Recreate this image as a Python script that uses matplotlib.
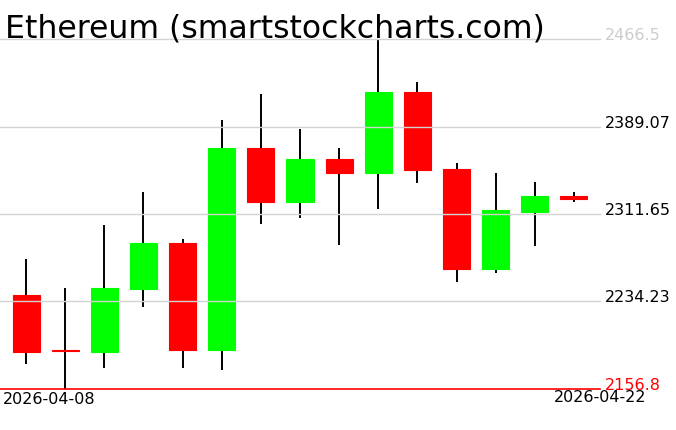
import matplotlib
matplotlib.use("Agg")
import matplotlib.pyplot as plt
import matplotlib.transforms as mtransforms
import numpy as np

# daily candles, 2026-04-08 .. 2026-04-22
dates = ["2026-04-08", "2026-04-09", "2026-04-10", "2026-04-11", "2026-04-12",
         "2026-04-13", "2026-04-14", "2026-04-15", "2026-04-16", "2026-04-17",
         "2026-04-18", "2026-04-19", "2026-04-20", "2026-04-21", "2026-04-22"]
opens = [2240.0, 2191.2, 2189.8, 2245.3, 2286.0, 2191.6, 2370.1, 2322.5,
         2360.3, 2348.2, 2419.6, 2351.5, 2263.2, 2313.7, 2327.6]
highs = [2271.8, 2246.2, 2301.9, 2331.1, 2289.5, 2394.8, 2417.8, 2386.9,
         2370.1, 2466.5, 2428.5, 2356.8, 2347.9, 2340.0, 2331.1]
lows = [2179.2, 2156.8, 2175.6, 2229.6, 2175.6, 2173.9, 2303.1, 2308.4,
        2284.5, 2316.3, 2339.3, 2251.7, 2259.7, 2283.6, 2322.5]
closes = [2189.8, 2190.0, 2246.2, 2286.0, 2191.6, 2370.1, 2322.5, 2360.3,
          2348.2, 2419.6, 2350.9, 2263.2, 2315.2, 2327.6, 2325.2]

levels = [2156.8, 2234.23, 2311.65, 2389.07, 2466.5]
level_labels = ["2156.8", "2234.23", "2311.65", "2389.07", "2466.5"]
level_colors = ["#ff0000", "black", "black", "black", "#cccccc"]

W, H = 676, 431
fig = plt.figure(figsize=(W / 100, H / 100), dpi=100)
ax = fig.add_axes([0, 1 - 390 / H, 600 / W, 350 / H])

x = np.arange(len(dates))
o = np.array(opens)
c = np.array(closes)
up = c > o
cols = np.where(up, "#00ff00", "#ff0000")

ax.vlines(x, lows, highs, color="black", lw=1.4, zorder=1)
ax.bar(x, np.abs(c - o), bottom=np.minimum(o, c), width=0.69,
       color=cols, edgecolor=cols, linewidth=0.8, zorder=2)

for lv, col in zip(levels, level_colors):
    if col == "#ff0000":
        ax.axhline(lv, color="#ff0000", lw=1.2, zorder=4, clip_on=False)
    else:
        ax.axhline(lv, color="#d3d3d3", lw=1.0, zorder=3, clip_on=False)

ax.set_xlim(-0.665, len(dates) - 1 + 0.665)
ax.set_ylim(levels[0], levels[-1])
ax.axis("off")

trans = mtransforms.blended_transform_factory(fig.transFigure, ax.transData)
for lv, lab, col in zip(levels, level_labels, level_colors):
    ax.text(605 / W, lv, lab, transform=trans, color=col, fontsize=11.5,
            va="baseline", ha="left", clip_on=False)

fig.text(3 / W, 1 - 392 / H, dates[0], fontsize=11.5, va="top", ha="left")
fig.text(646 / W, 1 - 390 / H, dates[-1], fontsize=11.5, va="top", ha="right")

fig.text(5 / W, 1 - 38 / H, "Ethereum (smartstockcharts.com)", fontsize=22.7,
         color="black", va="baseline", ha="left")

fig.savefig("out.png", dpi=100)
